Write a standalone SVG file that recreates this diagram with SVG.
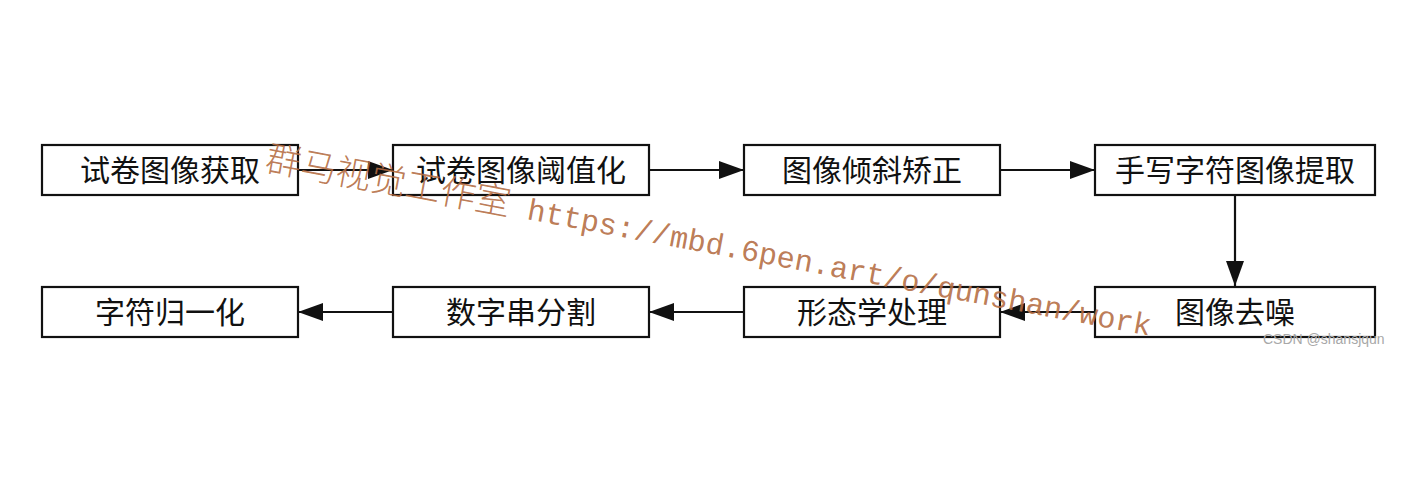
<svg xmlns="http://www.w3.org/2000/svg" width="1411" height="484" viewBox="0 0 1411 484">
<style>
.box{fill:#fff;stroke:#111;stroke-width:2.2}
.lbl{font-family:"Noto Sans CJK SC","Noto Sans",sans-serif;font-size:30px;fill:#111;text-anchor:middle}
.edge{stroke:#111;stroke-width:2.2;fill:none}
.wm{fill:#b46c42;fill-opacity:0.9}
</style>
<defs>
<marker id="ah" viewBox="0 0 25 18" refX="25" refY="9" markerWidth="25" markerHeight="18" markerUnits="userSpaceOnUse" orient="auto">
<path d="M0,0 L25,9 L0,18 Z" fill="#111"/>
</marker>
</defs>
<rect width="1411" height="484" fill="#fff"/>
<g id="connectors">
<line class="edge" x1="298" y1="170" x2="393" y2="170" marker-end="url(#ah)"/>
<line class="edge" x1="649" y1="170" x2="744" y2="170" marker-end="url(#ah)"/>
<line class="edge" x1="1000" y1="170" x2="1095" y2="170" marker-end="url(#ah)"/>
<line class="edge" x1="1235" y1="195" x2="1235" y2="286" marker-end="url(#ah)"/>
<line class="edge" x1="1095" y1="312" x2="1000" y2="312" marker-end="url(#ah)"/>
<line class="edge" x1="744" y1="312" x2="649" y2="312" marker-end="url(#ah)"/>
<line class="edge" x1="393" y1="312" x2="298" y2="312" marker-end="url(#ah)"/>
</g>
<g id="n1"><rect class="box" x="42" y="145" width="256" height="50"/><text class="lbl" x="170" y="181">试卷图像获取</text></g>
<g id="n2"><rect class="box" x="393" y="145" width="256" height="50"/><text class="lbl" x="521" y="181">试卷图像阈值化</text></g>
<g id="n3"><rect class="box" x="744" y="145" width="256" height="50"/><text class="lbl" x="872" y="181">图像倾斜矫正</text></g>
<g id="n4"><rect class="box" x="1095" y="145" width="280" height="50"/><text class="lbl" x="1235" y="181">手写字符图像提取</text></g>
<g id="n5"><rect class="box" x="1095" y="287" width="280" height="50"/><text class="lbl" x="1235" y="323">图像去噪</text></g>
<g id="n6"><rect class="box" x="744" y="287" width="256" height="50"/><text class="lbl" x="872" y="323">形态学处理</text></g>
<g id="n7"><rect class="box" x="393" y="287" width="256" height="50"/><text class="lbl" x="521" y="323">数字串分割</text></g>
<g id="n8"><rect class="box" x="42" y="287" width="256" height="50"/><text class="lbl" x="170" y="323">字符归一化</text></g>
<g id="watermark">
<text class="wm" x="264" y="170" transform="rotate(10.6 264 170)"><tspan font-family="Noto Sans CJK SC,sans-serif" font-size="35.5" font-weight="300">群马视觉工作室</tspan><tspan font-family="Liberation Mono,monospace" font-size="30.2"> https://mbd.6pen.art/o/qunshan/work</tspan></text>
<text x="1263" y="344" font-family="Liberation Sans,Arial,sans-serif" font-size="14" fill="#a8a8a8">CSDN @shansjqun</text>
</g>
</svg>
